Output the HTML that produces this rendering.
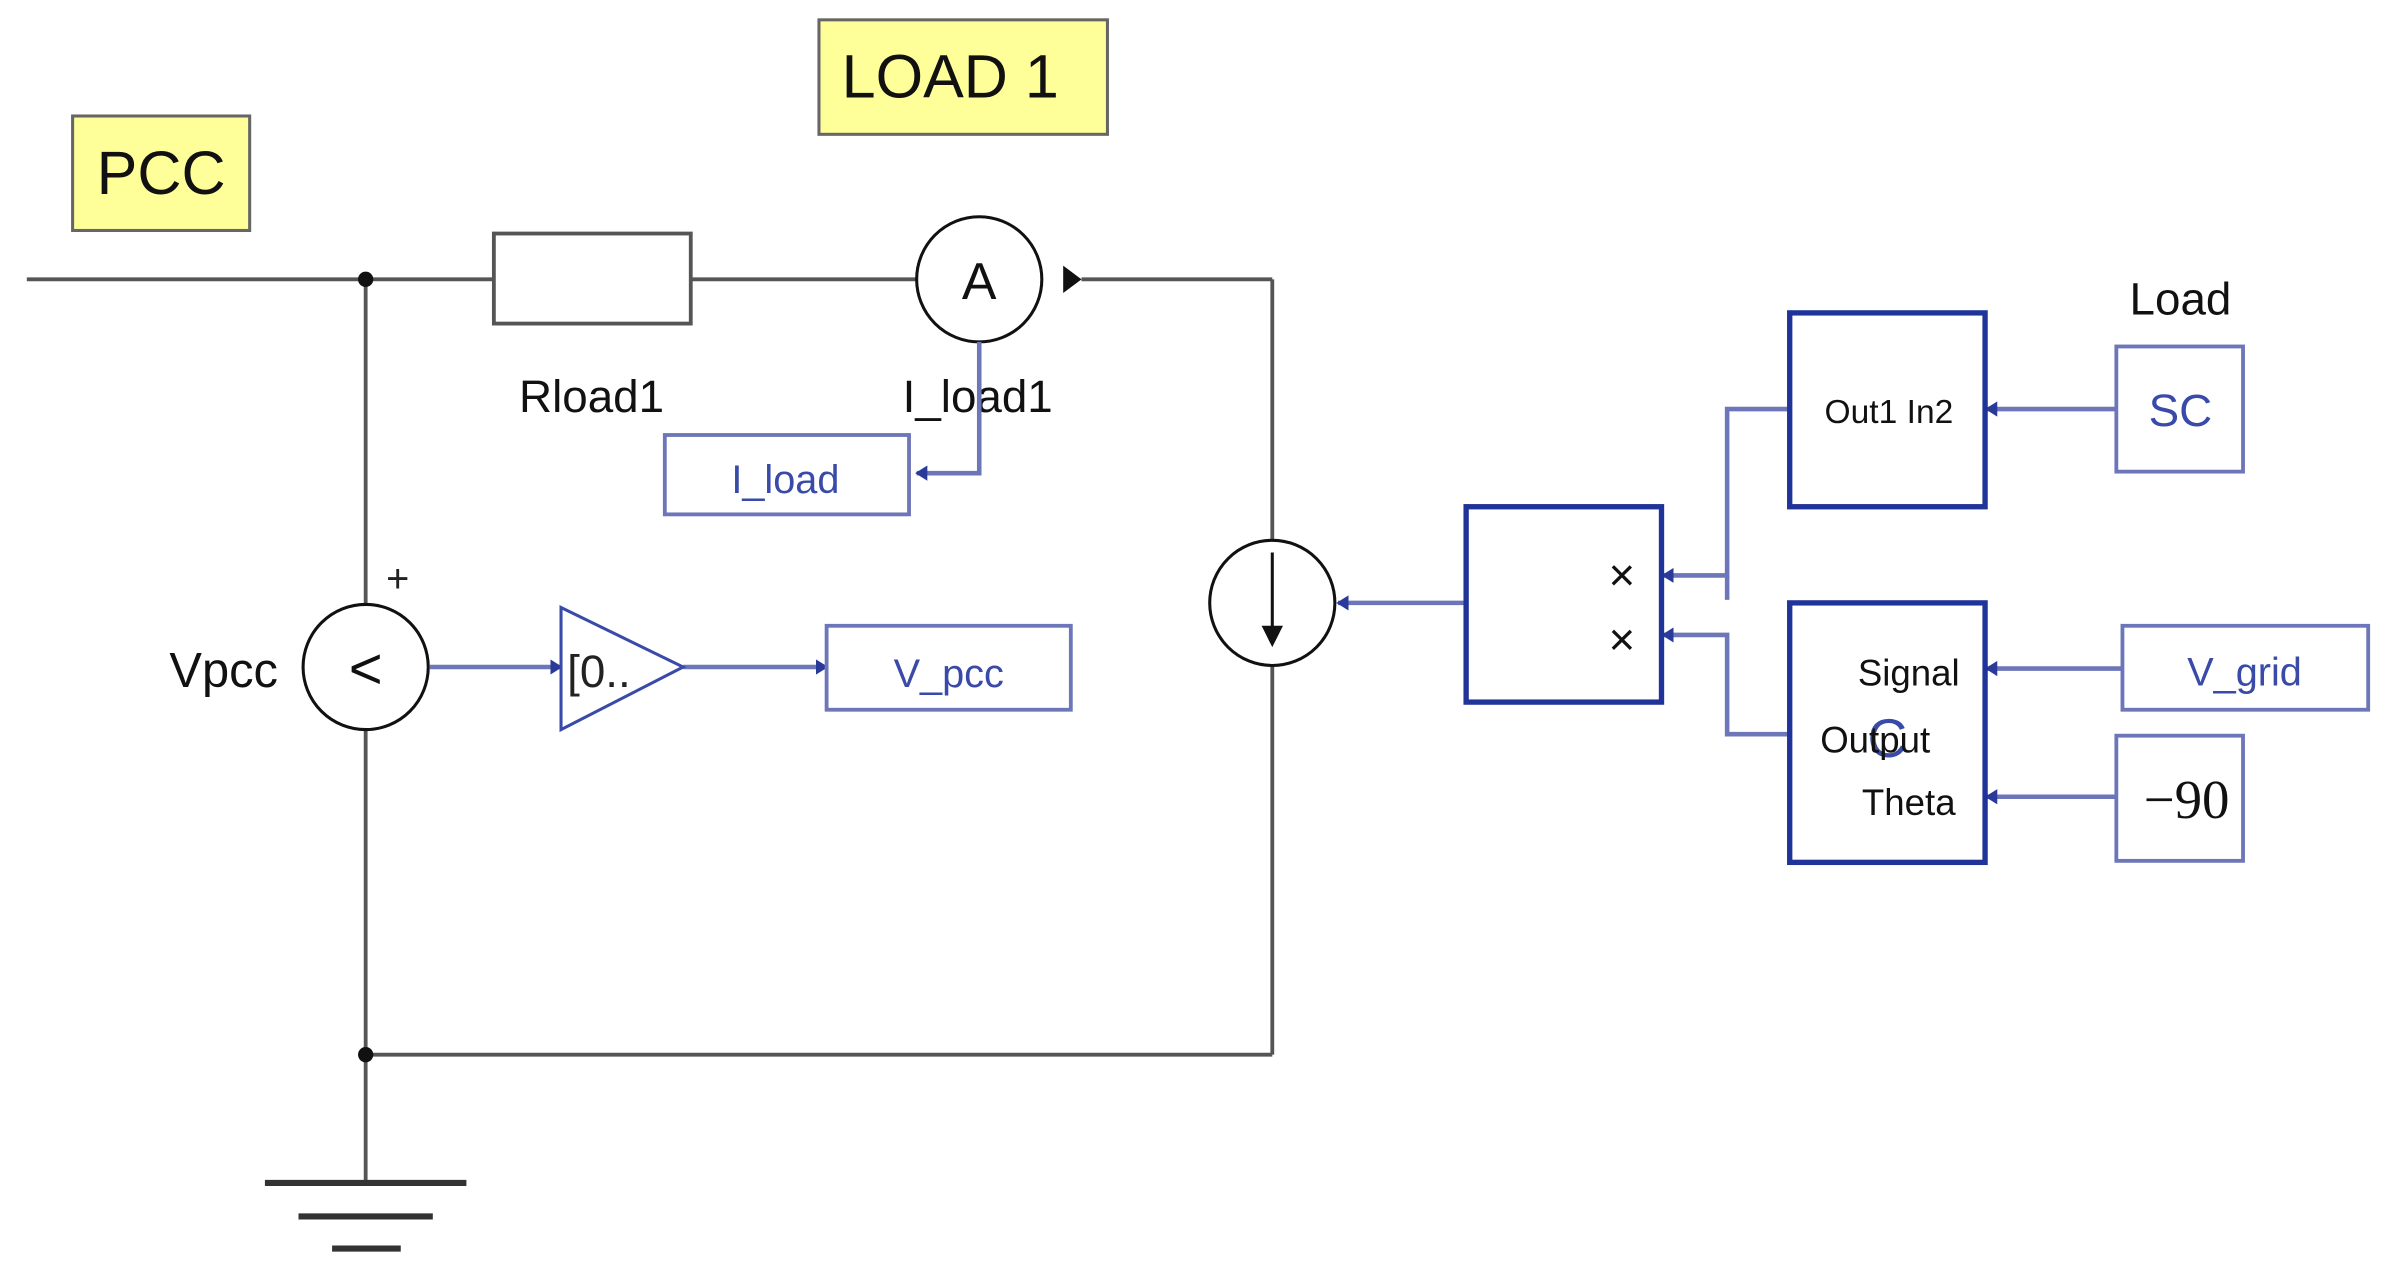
<!DOCTYPE html>
<html><head><style>html,body{margin:0;padding:0;background:#fff;}svg{display:block}</style></head>
<body>
<svg width="2395" height="1276" viewBox="0 0 1568 836" xmlns="http://www.w3.org/2000/svg" font-family="Liberation Sans, sans-serif">
<defs>
<marker id="ab" markerWidth="8" markerHeight="10" refX="7" refY="5" orient="auto" markerUnits="userSpaceOnUse"><path d="M0,0 L8,5 L0,10 Z" fill="#2a3a9a"/></marker>
</defs>
<!-- labels -->
<rect x="47" y="76" width="116" height="75" fill="#ffff99" stroke="#666" stroke-width="2"/>
<text x="105" y="127" font-size="40" text-anchor="middle" fill="#111">PCC</text>
<rect x="536" y="13" width="189" height="75" fill="#ffff99" stroke="#666" stroke-width="2"/>
<text x="622" y="64" font-size="40" text-anchor="middle" fill="#111">LOAD 1</text>
<!-- black circuit -->
<g stroke="#555" stroke-width="2.5" fill="none">
<line x1="17" y1="183" x2="323" y2="183"/>
<line x1="452" y1="183" x2="600" y2="183"/>
<line x1="708" y1="183" x2="833" y2="183"/>
<line x1="833" y1="183" x2="833" y2="354"/>
<line x1="833" y1="436" x2="833" y2="691"/>
<line x1="239" y1="691" x2="833" y2="691"/>
<line x1="239" y1="183" x2="239" y2="396"/>
<line x1="239" y1="478" x2="239" y2="775"/>
<rect x="323" y="153" width="129" height="59" fill="#fff"/>
<line x1="173" y1="775" x2="305" y2="775" stroke="#333" stroke-width="4"/>
<line x1="195" y1="797" x2="283" y2="797" stroke="#333" stroke-width="4"/>
<line x1="217" y1="818" x2="262" y2="818" stroke="#333" stroke-width="4"/>
</g>
<circle cx="239" cy="183" r="5" fill="#111"/>
<circle cx="239" cy="691" r="5" fill="#111"/>
<circle cx="641" cy="183" r="41" fill="#fff" stroke="#111" stroke-width="2"/>
<text x="641" y="196" font-size="34" text-anchor="middle" fill="#111">A</text>
<path d="M696,174 L708,183 L696,192 Z" fill="#111"/>
<circle cx="833" cy="395" r="41" fill="#fff" stroke="#111" stroke-width="2"/>
<line x1="833" y1="362" x2="833" y2="420" stroke="#111" stroke-width="2"/>
<path d="M826,410 L833,424 L840,410 Z" fill="#111"/>
<circle cx="239" cy="437" r="41" fill="#fff" stroke="#111" stroke-width="2"/>
<text x="239" y="451" font-size="38" text-anchor="middle" fill="#111">&lt;</text>
<text x="260" y="388" font-size="26" text-anchor="middle" fill="#222">+</text>
<text x="146" y="450" font-size="32" text-anchor="middle" fill="#111">Vpcc</text>
<text x="387" y="270" font-size="30" text-anchor="middle" fill="#111">Rload1</text>
<text x="640" y="270" font-size="30" text-anchor="middle" fill="#111">I_load1</text>
<!-- blue signals -->
<g stroke="#6c76b8" stroke-width="3" fill="none">
<polyline points="641,224 641,310 600,310" marker-end="url(#ab)"/>
<line x1="281" y1="437" x2="367" y2="437" marker-end="url(#ab)"/>
<line x1="447" y1="437" x2="541" y2="437" marker-end="url(#ab)"/>
<line x1="960" y1="395" x2="876" y2="395" marker-end="url(#ab)"/>
<polyline points="1172,268 1131,268 1131,377 1089,377" marker-end="url(#ab)"/>
<line x1="1131" y1="377" x2="1131" y2="393"/>
<polyline points="1172,481 1131,481 1131,416 1089,416" marker-end="url(#ab)"/>
<line x1="1386" y1="268" x2="1301" y2="268" marker-end="url(#ab)"/>
<line x1="1390" y1="438" x2="1301" y2="438" marker-end="url(#ab)"/>
<line x1="1386" y1="522" x2="1301" y2="522" marker-end="url(#ab)"/>
</g>
<g fill="#fff" stroke="#6c76b8" stroke-width="2.5">
<rect x="435" y="285" width="160" height="52"/>
<rect x="541" y="410" width="160" height="55"/>
<rect x="1386" y="227" width="83" height="82"/>
<rect x="1390" y="410" width="161" height="55"/>
<rect x="1386" y="482" width="83" height="82"/>
</g>
<path d="M367,398 L447,437 L367,478 Z" fill="#fff" stroke="#3a4aa8" stroke-width="2"/>
<text x="371" y="450" font-size="30" fill="#222">[0..</text>
<text x="514" y="323" font-size="26" text-anchor="middle" fill="#3a4aa8">I_load</text>
<text x="621" y="450" font-size="26" text-anchor="middle" fill="#3a4aa8">V_pcc</text>
<text x="1428" y="279" font-size="30" text-anchor="middle" fill="#3a4aa8">SC</text>
<text x="1470" y="449" font-size="26" text-anchor="middle" fill="#3a4aa8">V_grid</text>
<text x="1432" y="536" font-size="36" text-anchor="middle" fill="#111" font-family="Liberation Serif, serif">−90</text>
<text x="1428" y="206" font-size="30" text-anchor="middle" fill="#111">Load</text>
<g fill="#fff" stroke="#1f3399" stroke-width="3.5">
<rect x="960" y="332" width="128" height="128"/>
<rect x="1172" y="205" width="128" height="127"/>
<rect x="1172" y="395" width="128" height="170"/>
</g>
<text x="1062" y="387" font-size="30" text-anchor="middle" fill="#111">×</text>
<text x="1062" y="429" font-size="30" text-anchor="middle" fill="#111">×</text>
<text x="1237" y="277" font-size="22" text-anchor="middle" fill="#111">Out1 In2</text>
<text x="1236" y="496" font-size="36" text-anchor="middle" fill="#3a4aa8">C</text>
<text x="1250" y="449" font-size="24" text-anchor="middle" fill="#111">Signal</text>
<text x="1228" y="493" font-size="24" text-anchor="middle" fill="#111">Output</text>
<text x="1250" y="534" font-size="24" text-anchor="middle" fill="#111">Theta</text>
</svg>
</body></html>
